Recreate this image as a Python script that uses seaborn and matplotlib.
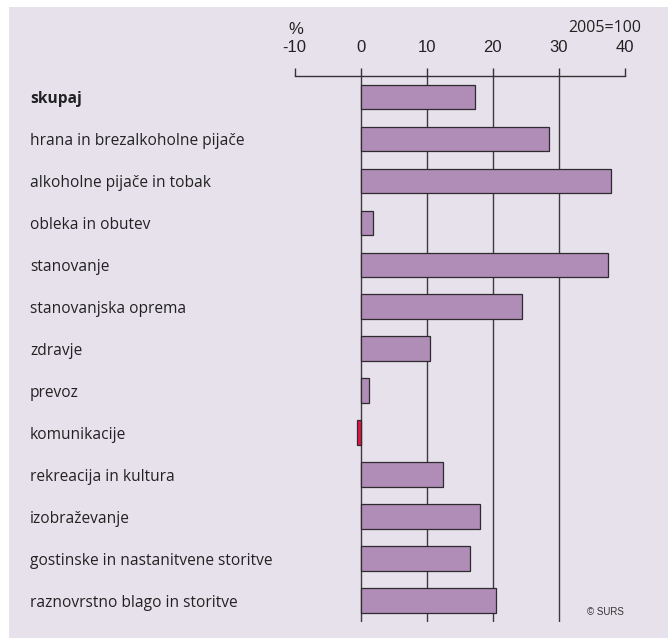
import matplotlib
matplotlib.use("Agg")
import matplotlib.pyplot as plt
from matplotlib.patches import Rectangle
import seaborn as sns
import pandas as pd

categories = [
    "skupaj",
    "hrana in brezalkoholne pijače",
    "alkoholne pijače in tobak",
    "obleka in obutev",
    "stanovanje",
    "stanovanjska oprema",
    "zdravje",
    "prevoz",
    "komunikacije",
    "rekreacija in kultura",
    "izobraževanje",
    "gostinske in nastanitvene storitve",
    "raznovrstno blago in storitve",
]
values = [17.3, 28.6, 37.9, 1.8, 37.4, 24.5, 10.5, 1.2, -0.5, 12.5, 18.1, 16.6, 20.5]
xticks = [-10, 0, 10, 20, 30, 40]
gridlines = [0, 10, 20, 30]

W, H = 669, 638
sns.set_theme(style="white")
plt.rcParams["font.family"] = ["Liberation Sans", "DejaVu Sans"]

fig = plt.figure(figsize=(W / 100, H / 100), dpi=100)
fig.patch.set_facecolor("white")
fig.patches.append(Rectangle((9 / W, 0), (668 - 9) / W, 631 / H,
                             transform=fig.transFigure, facecolor="#e7e1ec",
                             edgecolor="none", zorder=-10))

ax_left, ax_right = 294.7, 624.7
ax_top, ax_bot = 76, 621.7
ax = fig.add_axes([ax_left / W, 1 - ax_bot / H, (ax_right - ax_left) / W, (ax_bot - ax_top) / H])
ax.set_facecolor("none")

df = pd.DataFrame({"category": categories, "value": values})
colors = {c: ("#e2163e" if v < 0 else "#b08db6") for c, v in zip(categories, values)}

for g in gridlines:
    ax.axvline(g, color="#3a3a3a", lw=1.0, zorder=0.5)

sns.barplot(data=df, x="value", y="category", hue="category", palette=colors,
            legend=False, orient="h", width=0.59, edgecolor="#2e2a30",
            linewidth=0.9, saturation=1, ax=ax, zorder=2)

ax.set_xlim(-10, 40)
ax.set_ylim(12.5, -0.5)
ax.set_xticks(xticks)
ax.set_xticklabels([str(t) for t in xticks])
ax.xaxis.tick_top()
ax.tick_params(axis="x", direction="out", length=5.76, width=1.0, color="#333333",
               pad=9, labelsize=12, labelcolor="#222222", top=True, bottom=False)
for s in ["bottom", "left", "right"]:
    ax.spines[s].set_visible(False)
ax.spines["top"].set_color("#333333")
ax.spines["top"].set_linewidth(1.0)
ax.set_xlabel("")
ax.set_ylabel("")

pad_pt = (ax_left - 30) * 72 / 100
ax.tick_params(axis="y", length=0, pad=pad_pt)
for i, lab in enumerate(ax.get_yticklabels()):
    lab.set_horizontalalignment("left")
    lab.set_family(["Open Sans", "DejaVu Sans"])
    lab.set_fontsize(11.2)
    lab.set_color("#222222")
    if i == 0:
        lab.set_fontweight("bold")

fig.text(296 / W, 1 - 29 / H, "%", ha="center", va="center", fontsize=12, color="#222222")
fig.text(641 / W, 1 - 28 / H, "2005=100", ha="right", va="center", fontsize=11.5,
         family=["Open Sans", "DejaVu Sans"], color="#222222")
fig.text(624 / W, 1 - 612 / H, "© SURS", ha="right", va="center", fontsize=7, color="#333333")

fig.savefig("out.png", dpi=100, facecolor=fig.get_facecolor())
